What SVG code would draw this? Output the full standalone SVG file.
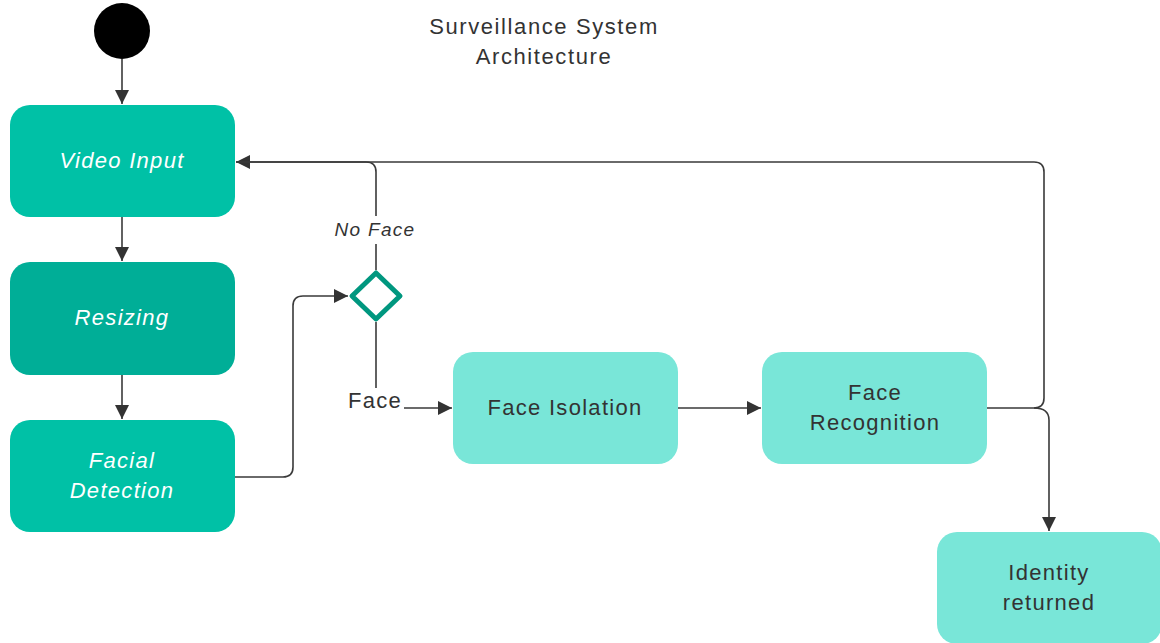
<svg xmlns="http://www.w3.org/2000/svg" width="1160" height="643" viewBox="0 0 1160 643">
<defs>
<style>
.lbl{font-family:"Liberation Sans",Arial,sans-serif;text-anchor:middle;letter-spacing:1.3px}
.w{fill:#ffffff;font-style:italic;font-size:22px}
.d{fill:#333333;font-size:22px}
.ln{fill:none;stroke:#3a3a3a;stroke-width:1.6}
</style>
<marker id="ah" viewBox="0 0 14 14" refX="14" refY="7" markerWidth="14" markerHeight="14" markerUnits="userSpaceOnUse" orient="auto">
<path d="M0,0 L14,7 L0,14 Z" fill="#333333"/>
</marker>
</defs>
<rect width="1160" height="643" fill="#ffffff"/>
<g id="title">
<text class="lbl d" x="544" y="34" style="letter-spacing:1.6px">Surveillance System</text>
<text class="lbl d" x="544" y="64" style="letter-spacing:1.6px">Architecture</text>
</g>
<g id="connectors">
<path class="ln" d="M122,59 V104" marker-end="url(#ah)"/>
<path class="ln" d="M122,217 V261" marker-end="url(#ah)"/>
<path class="ln" d="M122,375 V419" marker-end="url(#ah)"/>
<path class="ln" d="M235,477 H283 Q293,477 293,467 V306 Q293,296 303,296 H348" marker-end="url(#ah)"/>
<path class="ln" d="M376,270 V244"/>
<path class="ln" d="M376,216 V172 Q376,162 366,162 H236" marker-end="url(#ah)"/>
<path class="ln" d="M987,408 H1034 Q1044,408 1044,398 V172 Q1044,162 1034,162 H236"/>
<path class="ln" d="M1034,408 Q1049,408 1049,420 V531" marker-end="url(#ah)"/>
<path class="ln" d="M376,322 V388"/>
<path class="ln" d="M404,408 H452" marker-end="url(#ah)"/>
<path class="ln" d="M678,408 H761" marker-end="url(#ah)"/>
<text class="lbl" x="375" y="236" font-size="19" font-style="italic" fill="#333333">No Face</text>
<text class="lbl" x="375" y="408" font-size="22" fill="#333333">Face</text>
</g>
<g id="start"><circle cx="122" cy="31" r="28" fill="#000000"/></g>
<g id="video-input">
<rect x="10" y="105" width="225" height="112" rx="20" fill="#00C1A6"/>
<text class="lbl w" x="122" y="168">Video Input</text>
</g>
<g id="resizing">
<rect x="10" y="262" width="225" height="113" rx="20" fill="#00AE97"/>
<text class="lbl w" x="122" y="325">Resizing</text>
</g>
<g id="facial-detection">
<rect x="10" y="420" width="225" height="112" rx="20" fill="#00C1A6"/>
<text class="lbl w" x="122" y="468">Facial</text>
<text class="lbl w" x="122" y="498">Detection</text>
</g>
<g id="decision">
<path d="M376,273 L400,296 L376,319 L352,296 Z" fill="#ffffff" stroke="#00977F" stroke-width="5" stroke-linejoin="round"/>
</g>
<g id="face-isolation">
<rect x="453" y="352" width="225" height="112" rx="20" fill="#79E6D8"/>
<text class="lbl d" x="565" y="415">Face Isolation</text>
</g>
<g id="face-recognition">
<rect x="762" y="352" width="225" height="112" rx="20" fill="#79E6D8"/>
<text class="lbl d" x="875" y="400">Face</text>
<text class="lbl d" x="875" y="430">Recognition</text>
</g>
<g id="identity-returned">
<rect x="937" y="532" width="225" height="112" rx="20" fill="#79E6D8"/>
<text class="lbl d" x="1049" y="580">Identity</text>
<text class="lbl d" x="1049" y="610">returned</text>
</g>
</svg>
